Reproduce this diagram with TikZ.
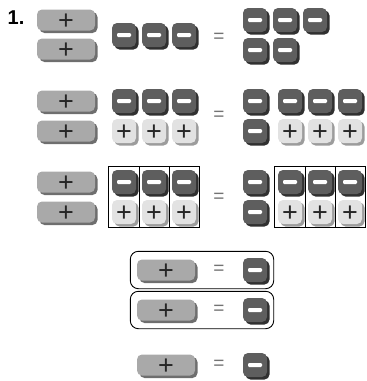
\documentclass[tikz,border=0pt]{standalone}
\usepackage{fontspec}
\setmainfont{Liberation Sans}
\usetikzlibrary{shadows, fit, calc}

\definecolor{longface}{HTML}{A9A9A9}
\definecolor{longshade}{HTML}{6E6E6E}
\definecolor{negface}{HTML}{5E5E5E}
\definecolor{negshade}{HTML}{303030}
\definecolor{posface}{HTML}{E2E2E2}
\definecolor{posshade}{HTML}{9C9C9C}

\newcommand{\tileplus}{\smash{\raisebox{-0.35em}{+}}}

\begin{document}
\begin{tikzpicture}[x=1pt, y=-1pt,
    tile/.style={rectangle, rounded corners=5pt, inner sep=0pt, text=black!85,
        font=\fontsize{27}{27}\selectfont},
    longtile/.style={tile, minimum width=58pt, minimum height=21pt, fill=longface,
        drop shadow={shadow xshift=2.5pt, shadow yshift=-2.5pt, fill=longshade, opacity=1}},
    postile/.style={tile, minimum width=24pt, minimum height=24pt, fill=posface,
        drop shadow={shadow xshift=2.5pt, shadow yshift=-2.5pt, fill=posshade, opacity=1}},
    negtile/.style={tile, minimum width=24pt, minimum height=24pt, fill=negface,
        drop shadow={shadow xshift=2.5pt, shadow yshift=-2.5pt, fill=negshade, opacity=1},
        path picture={\fill[white, rounded corners=1.2pt]
            ($(path picture bounding box.center)+(-7,-2)$) rectangle ++(14,4);}},
    eqsign/.style={inner sep=0pt, text=black!55, font=\fontsize{19}{19}\rmfamily\selectfont},
    gridbox/.style={draw, line width=0.9pt, inner sep=3pt},
    pairbox/.style={draw, line width=0.9pt, rounded corners=8pt, inner sep=6.5pt}]
    \useasboundingbox (0,0) rectangle (367,381);

    \node[font=\fontsize{20}{20}\bfseries\selectfont] (num) at (16,18) {1.};

    % first line
    \node[longtile] (a1) at (66,20) {\tileplus};
    \node[longtile] (a2) at (66,49) {\tileplus};
    \foreach \i/\x in {1/124,2/154,3/184}
        \node[negtile] (an\i) at (\x,35) {};
    \node[eqsign] (aeq) at (219,38) {=};
    \foreach \i/\x in {1/255,2/285,3/315}
        \node[negtile] (ar\i) at (\x,20) {};
    \foreach \i/\x in {4/255,5/285}
        \node[negtile] (ar\i) at (\x,50) {};

    % second line
    \node[longtile] (b1) at (66,101) {\tileplus};
    \node[longtile] (b2) at (66,131) {\tileplus};
    \foreach \i/\x in {1/124,2/154,3/184} {
        \node[negtile] (bn\i) at (\x,101) {};
        \node[postile] (bp\i) at (\x,131) {\tileplus};
    }
    \node[eqsign] (beq) at (219,116) {=};
    \node[negtile] (bm1) at (255,101) {};
    \node[negtile] (bm2) at (255,131) {};
    \foreach \i/\x in {1/290,2/320,3/350} {
        \node[negtile] (brn\i) at (\x,101) {};
        \node[postile] (brp\i) at (\x,131) {\tileplus};
    }

    % third line
    \node[longtile] (c1) at (66,182) {\tileplus};
    \node[longtile] (c2) at (66,212) {\tileplus};
    \foreach \i/\x in {1/124,2/154,3/184} {
        \node[negtile] (cn\i) at (\x,182) {};
        \node[postile] (cp\i) at (\x,212) {\tileplus};
    }
    \node[gridbox, fit=(cn1)(cp3)] (cbox) {};
    \coordinate (cd1) at ($(cn1.east)!0.5!(cn2.west)$);
    \coordinate (cd2) at ($(cn2.east)!0.5!(cn3.west)$);
    \foreach \d in {cd1,cd2}
        \draw[line width=0.9pt] (\d |- cbox.north) -- (\d |- cbox.south);
    \node[eqsign] (ceq) at (219,198) {=};
    \node[negtile] (cm1) at (255,182) {};
    \node[negtile] (cm2) at (255,212) {};
    \foreach \i/\x in {1/290,2/320,3/350} {
        \node[negtile] (crn\i) at (\x,182) {};
        \node[postile] (crp\i) at (\x,212) {\tileplus};
    }
    \node[gridbox, fit=(crn1)(crp3)] (crbox) {};
    \coordinate (crd1) at ($(crn1.east)!0.5!(crn2.west)$);
    \coordinate (crd2) at ($(crn2.east)!0.5!(crn3.west)$);
    \foreach \d in {crd1,crd2}
        \draw[line width=0.9pt] (\d |- crbox.north) -- (\d |- crbox.south);

    % pairs that cancel
    \foreach \k/\y in {1/270,2/310,3/365} {
        \node[longtile] (d\k) at (166,\y) {\tileplus};
        \node[eqsign] (deq\k) at (219,\y) {=};
        \node[negtile] (dn\k) at (255,\y) {};
    }
    \node[pairbox, fit=(d1)(dn1)] (dbox1) {};
    \node[pairbox, fit=(d2)(dn2)] (dbox2) {};
\end{tikzpicture}
\end{document}
